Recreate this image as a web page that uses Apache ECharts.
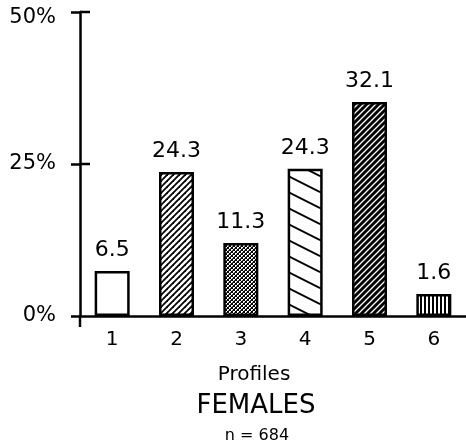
<!DOCTYPE html>
<html><head><meta charset="utf-8">
<script src="https://cdn.jsdelivr.net/npm/echarts@6/dist/echarts.min.js"></script>
<style>html,body{margin:0;padding:0;background:#fff}#c{width:466px;height:448px}</style>
</head><body><div id="c"></div>
<script>
// Data
const categories = ['1', '2', '3', '4', '5', '6'];
const barHeights = [7.4, 23.7, 12.0, 24.2, 35.2, 3.6];      // drawn bar heights (%)
const barLabels = ['6.5', '24.3', '11.3', '24.3', '32.1', '1.6']; // printed values
const yTicks = [0, 25, 50];

const FONT = 'DejaVu Sans, Liberation Sans, sans-serif';

function makePattern(kind) {
  const c = document.createElement('canvas');
  let w = 6, h = 6;
  if (kind === 'back') { w = 32; h = 16; }
  if (kind === 'vert') { w = 4; h = 4; }
  if (kind === 'cross') { w = 4; h = 4; }
  c.width = w; c.height = h;
  const g = c.getContext('2d');
  g.fillStyle = '#fff'; g.fillRect(0, 0, w, h);
  g.strokeStyle = '#000';
  if (kind === 'slash' || kind === 'slashDark') {
    g.fillStyle = kind === 'slashDark' ? '#000' : '#fff';
    g.fillRect(0, 0, w, h);
    g.strokeStyle = kind === 'slashDark' ? '#fff' : '#000';
    g.lineWidth = kind === 'slashDark' ? 1.3 : 1.8;
    for (let k = -1; k <= 1; k++) {
      g.beginPath(); g.moveTo(k * w - 1, h + 1); g.lineTo(k * w + w + 1, -1); g.stroke();
    }
  } else if (kind === 'back') {
    g.lineWidth = 2;
    for (let n = -2; n <= 1; n++) {
      g.beginPath(); g.moveTo(-2, n * 16 - 1); g.lineTo(w + 2, n * 16 + 16 + 1); g.stroke();
    }
  } else if (kind === 'vert') {
    g.fillStyle = '#000'; g.fillRect(0, 0, 2, h);
  } else if (kind === 'cross') {
    g.fillStyle = '#000';
    for (let i = 0; i < 4; i++) { g.fillRect(i, i, 1, 1); g.fillRect(3 - i, i, 1, 1); }
    g.fillStyle = '#555';
    g.fillRect(2, 0, 1, 1); g.fillRect(0, 2, 1, 1);
  }
  return { image: c, repeat: 'repeat' };
}
const fills = [
  '#ffffff',
  makePattern('slash'),
  makePattern('cross'),
  makePattern('back'),
  makePattern('slashDark'),
  makePattern('vert')
];

const chart = echarts.init(document.getElementById('c'), null, { renderer: 'canvas' });
chart.setOption({
  animation: false,
  backgroundColor: '#fff',
  grid: { left: 80, top: 12, width: 387, height: 304, containLabel: false },
  xAxis: {
    type: 'category', data: categories, boundaryGap: true,
    axisLine: { show: true, lineStyle: { color: '#000', width: 2.5 } },
    axisTick: { show: false },
    axisLabel: { color: '#000', fontFamily: FONT, fontSize: 20, margin: 14 }
  },
  yAxis: {
    type: 'value', min: yTicks[0], max: yTicks[yTicks.length - 1], interval: yTicks[1] - yTicks[0],
    splitLine: { show: false },
    axisLine: { show: true, lineStyle: { color: '#000', width: 2.5 } },
    axisTick: { show: true, inside: false, length: 9, lineStyle: { color: '#000', width: 2.5 } },
    axisLabel: {
      color: '#000', fontFamily: FONT, fontSize: 21, margin: 24,
      formatter: function (v) { return v === yTicks[yTicks.length - 1] ? '{t|' + v + '%}' : v + '%'; },
      rich: { t: { fontFamily: FONT, fontSize: 21, color: '#000', padding: [12, 0, 0, 0] } }
    }
  },
  series: [{
    type: 'bar', barWidth: 35,
    data: barHeights.map((v, i) => ({ value: v, itemStyle: { color: fills[i] } })),
    itemStyle: { borderColor: '#000', borderWidth: 2.5 },
    label: {
      show: true, position: 'top', distance: 10, color: '#000', fontFamily: FONT, fontSize: 22,
      formatter: p => barLabels[p.dataIndex]
    }
  }]
});
const p0 = chart.convertToPixel({ gridIndex: 0 }, [0, 0]);
const ax = 80;
const graphics = [
  { type: 'line', shape: { x1: ax, y1: p0[1], x2: ax, y2: p0[1] + 11 }, style: { stroke: '#000', lineWidth: 2.5 } }
];
// inward half of the crossing ticks on the y axis
yTicks.slice(1).forEach(function (t) {
  const y = chart.convertToPixel({ gridIndex: 0 }, [0, t])[1];
  graphics.push({ type: 'line', shape: { x1: ax, y1: y, x2: ax + 10, y2: y }, style: { stroke: '#000', lineWidth: 2.5 } });
});
graphics.push(
  { type: 'text', x: 254, y: 375, style: { text: 'Profiles', fontFamily: FONT, fontSize: 20, fill: '#000', textAlign: 'center', textVerticalAlign: 'middle' } },
  { type: 'text', x: 256, y: 406, style: { text: 'FEMALES', fontFamily: FONT, fontSize: 26, fill: '#000', textAlign: 'center', textVerticalAlign: 'middle' } },
  { type: 'text', x: 257, y: 436, style: { text: 'n = 684', fontFamily: FONT, fontSize: 16, fill: '#000', textAlign: 'center', textVerticalAlign: 'middle' } }
);
chart.setOption({ graphic: graphics });
</script></body></html>
